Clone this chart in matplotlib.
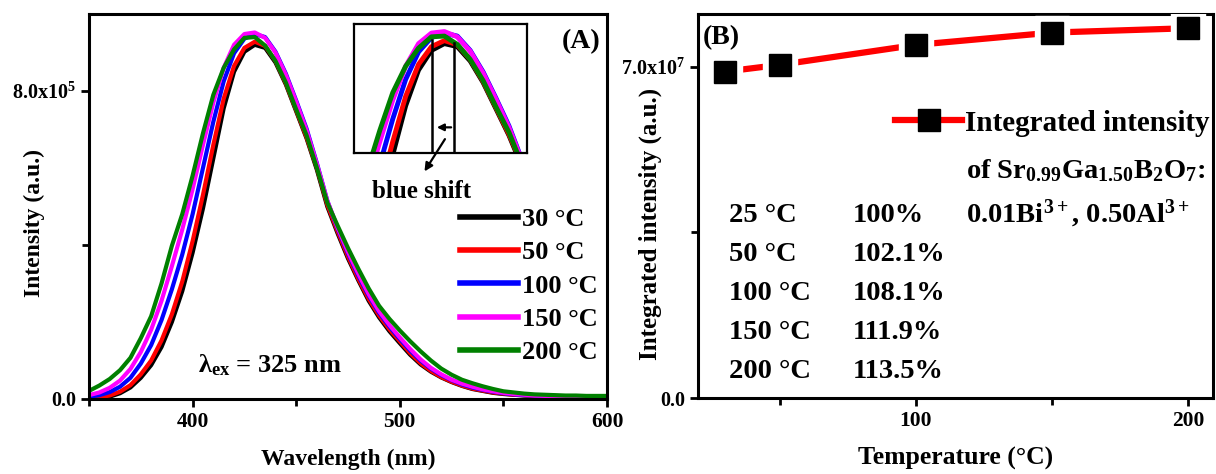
import numpy as np
import matplotlib
matplotlib.use('Agg')
import matplotlib.pyplot as plt
from matplotlib.lines import Line2D
from matplotlib.ticker import FixedLocator, FixedFormatter

plt.rcParams['font.family'] = ['Liberation Serif', 'DejaVu Serif']
plt.rcParams['font.weight'] = 'bold'
plt.rcParams['axes.labelweight'] = 'bold'
plt.rcParams['mathtext.fontset'] = 'custom'
plt.rcParams['mathtext.rm'] = 'Liberation Serif:bold'
plt.rcParams['mathtext.it'] = 'Liberation Serif:bold'
plt.rcParams['mathtext.bf'] = 'Liberation Serif:bold'
plt.rcParams['mathtext.default'] = 'rm'

# emission spectra (x1e5 a.u.), read every 5 nm
wavelength = np.arange(350, 601, 5)
I_30 = [0.02, 0.03, 0.06, 0.15, 0.30, 0.55, 0.88, 1.35, 2.00, 2.80, 3.80, 4.95, 6.25,
        7.55, 8.50, 9.02, 9.20, 9.12, 8.74, 8.17, 7.47, 6.77, 5.95, 5.00, 4.30, 3.65,
        3.08, 2.55, 2.12, 1.76, 1.45, 1.15, 0.90, 0.71, 0.56, 0.44, 0.34, 0.26, 0.21,
        0.16, 0.13, 0.11, 0.09, 0.08, 0.07, 0.06, 0.06, 0.05, 0.05, 0.05, 0.05]
I_50 = [0.03, 0.05, 0.09, 0.19, 0.36, 0.64, 1.00, 1.52, 2.20, 3.05, 4.10, 5.30, 6.60,
        7.80, 8.65, 9.12, 9.28, 9.17, 8.78, 8.20, 7.50, 6.80, 6.00, 5.05, 4.35, 3.70,
        3.12, 2.60, 2.17, 1.81, 1.50, 1.19, 0.93, 0.73, 0.57, 0.45, 0.35, 0.27, 0.22,
        0.17, 0.14, 0.11, 0.10, 0.08, 0.07, 0.07, 0.06, 0.06, 0.06, 0.05, 0.05]
I_100 = [0.06, 0.10, 0.18, 0.32, 0.55, 0.92, 1.40, 2.05, 2.85, 3.75, 4.80, 6.00, 7.20,
         8.25, 8.98, 9.36, 9.48, 9.40, 9.02, 8.45, 7.75, 7.02, 6.12, 5.15, 4.42, 3.78,
         3.20, 2.68, 2.24, 1.88, 1.56, 1.26, 1.00, 0.79, 0.62, 0.49, 0.38, 0.30, 0.24,
         0.19, 0.15, 0.12, 0.10, 0.09, 0.08, 0.07, 0.07, 0.06, 0.06, 0.06, 0.06]
I_150 = [0.10, 0.17, 0.29, 0.48, 0.78, 1.22, 1.80, 2.55, 3.45, 4.40, 5.45, 6.60, 7.70,
         8.60, 9.20, 9.48, 9.52, 9.38, 9.00, 8.42, 7.72, 6.98, 6.10, 5.15, 4.45, 3.82,
         3.25, 2.72, 2.28, 1.92, 1.60, 1.30, 1.03, 0.81, 0.64, 0.50, 0.40, 0.32, 0.25,
         0.20, 0.16, 0.13, 0.11, 0.09, 0.08, 0.08, 0.07, 0.07, 0.06, 0.06, 0.06]
I_200 = [0.21, 0.35, 0.52, 0.75, 1.07, 1.58, 2.15, 3.00, 3.98, 4.80, 5.80, 6.90, 7.90,
         8.60, 9.08, 9.38, 9.40, 9.18, 8.78, 8.22, 7.52, 6.85, 6.00, 5.10, 4.50, 3.92,
         3.38, 2.87, 2.42, 2.08, 1.78, 1.50, 1.24, 1.00, 0.79, 0.63, 0.50, 0.41, 0.33,
         0.26, 0.20, 0.17, 0.14, 0.12, 0.11, 0.10, 0.09, 0.09, 0.08, 0.08, 0.08]
spectra = [I_30, I_50, I_100, I_150, I_200]
spec_labels = ['30 \u00b0C', '50 \u00b0C', '100 \u00b0C', '150 \u00b0C', '200 \u00b0C']
spec_colors = ['black', '#ff0000', '#0000ff', '#ff00ff', '#008000']

# peak markers in the inset (nm)
peak_high_T = 425.2
peak_low_T = 433.7

# integrated intensity vs temperature
temperature = [30, 50, 100, 150, 200]
integrated = [6.894e7, 7.036e7, 7.458e7, 7.718e7, 7.81e7]
table_T = ['25 \u00b0C', '50 \u00b0C', '100 \u00b0C', '150 \u00b0C', '200 \u00b0C']
table_pct = ['100%', '102.1%', '108.1%', '111.9%', '113.5%']

W, H = 1216, 474
fig = plt.figure(figsize=(W / 100, H / 100), dpi=100)

def px_axes(x0, y0, x1, y1):
    return fig.add_axes([x0 / W, 1 - y1 / H, (x1 - x0) / W, (y1 - y0) / H])

def style(a):
    for s in a.spines.values():
        s.set_linewidth(2.2)
    a.tick_params(which='both', direction='out', width=2)
    a.tick_params(which='major', length=6)
    a.tick_params(which='minor', length=5)
    a.tick_params(axis='y', labelsize=14.5)
    a.tick_params(axis='x', labelsize=15.5)

# ---------- panel A ----------
ax = px_axes(89, 14, 607, 399)
for y, lab, c in zip(spectra, spec_labels, spec_colors):
    ax.plot(wavelength, np.array(y) * 1e5, color=c, lw=3, label=lab)
ax.set_xlim(350, 600)
ax.set_ylim(0, 1.0e6)
ax.xaxis.set_major_locator(FixedLocator([400, 500, 600]))
ax.xaxis.set_minor_locator(FixedLocator([350, 450, 550]))
ax.yaxis.set_major_locator(FixedLocator([0, 8e5]))
ax.yaxis.set_major_formatter(FixedFormatter(['0.0', '8.0x10$^{5}$']))
ax.yaxis.set_minor_locator(FixedLocator([4e5]))
style(ax)
ax.set_xlabel('Wavelength (nm)', fontsize=17, labelpad=12)
ax.set_ylabel('Intensity (a.u.)', fontsize=17)
ax.yaxis.set_label_coords(-0.084, 0.457)
ax.text(0.988, 0.962, '(A)', transform=ax.transAxes, ha='right', va='top', fontsize=20)
ax.text(0.21, 0.07, r'$\lambda_{\mathrm{ex}}$ = 325 nm', transform=ax.transAxes,
        fontsize=19, va='baseline')
ax.text(510.4, 5.23e5, 'blue shift', ha='center', va='baseline', fontsize=18)
leg = ax.legend(loc='upper left', bbox_to_anchor=(0.716, 0.497), frameon=False,
                fontsize=19, handlelength=2.2, handletextpad=0.15, labelspacing=0.37,
                borderaxespad=0, borderpad=0)
for ln in leg.get_lines():
    ln.set_linewidth(4)

# inset
axi = px_axes(354, 24, 527, 153)
for y, c in zip(spectra, spec_colors):
    axi.plot(wavelength, np.array(y) * 1e5, color=c, lw=3.5)
axi.set_xlim(395, 462)
axi.set_ylim(6.3e5, 9.72e5)
axi.set_xticks([])
axi.set_yticks([])
for s in axi.spines.values():
    s.set_linewidth(1.6)
axi.plot([peak_high_T, peak_high_T], [6.3e5, 9.3e5], color='black', lw=1.8)
axi.plot([peak_low_T, peak_low_T], [6.3e5, 9.21e5], color='black', lw=1.8)
axi.annotate('', xy=(426.0, 6.98e5), xytext=(peak_low_T, 6.98e5),
             arrowprops=dict(arrowstyle='-|>', color='black', lw=1.6,
                             mutation_scale=10))
axi.annotate('', xy=(511.2, 5.85e5), xycoords=ax.transData,
             xytext=(430.8, 6.73e5), textcoords='data',
             arrowprops=dict(arrowstyle='-|>', color='black', lw=1.6,
                             mutation_scale=12), annotation_clip=False)

# ---------- panel B ----------
bx = px_axes(698, 14, 1213, 398)
bx.plot(temperature, integrated, color='#ff0000', lw=4.5, solid_capstyle='round', zorder=2)
bx.plot(temperature, integrated, ls='none', marker='s', ms=24, mfc='white', mec='white', zorder=3)
bx.plot(temperature, integrated, ls='none', marker='s', ms=16, mfc='black', mec='black', zorder=4)
bx.set_xlim(20, 209)
bx.set_ylim(0, 8.11e7)
bx.xaxis.set_major_locator(FixedLocator([100, 200]))
bx.xaxis.set_minor_locator(FixedLocator([50, 150]))
bx.yaxis.set_major_locator(FixedLocator([0, 7e7]))
bx.yaxis.set_major_formatter(FixedFormatter(['0.0', '7.0x10$^{7}$']))
bx.yaxis.set_minor_locator(FixedLocator([3.5e7]))
style(bx)
bx.set_xlabel('Temperature (\u00b0C)', fontsize=18.5, labelpad=11)
bx.set_ylabel('Integrated intensity (a.u.)', fontsize=18)
bx.yaxis.set_label_coords(-0.069, 0.452)
bx.text(0.01, 0.97, '(B)', transform=bx.transAxes, ha='left', va='top', fontsize=20)

proxy = Line2D([], [], color='#ff0000', lw=4.5, marker='s', ms=16, mfc='black', mec='black')
bx.legend(handles=[proxy], labels=['Integrated intensity'], loc='center left',
          bbox_to_anchor=(0.383, 0.716), frameon=False, fontsize=21,
          handlelength=2.3, handletextpad=0.1, borderaxespad=0, borderpad=0)
bx.text(0.52, 0.573, r'of Sr$_{0.99}$Ga$_{1.50}$B$_{2}$O$_{7}$:', transform=bx.transAxes,
        fontsize=20.5, va='baseline')
bx.text(0.52, 0.458, r'0.01Bi$^{3+}$, 0.50Al$^{3+}$', transform=bx.transAxes,
        fontsize=20.5, va='baseline')
row_y = [0.458, 0.357, 0.255, 0.154, 0.052]
for yy, t, p in zip(row_y, table_T, table_pct):
    bx.text(0.06, yy, t, transform=bx.transAxes, fontsize=20.5, va='baseline')
    bx.text(0.30, yy, p, transform=bx.transAxes, fontsize=20.5, va='baseline')

fig.savefig('out.png', dpi=100)
